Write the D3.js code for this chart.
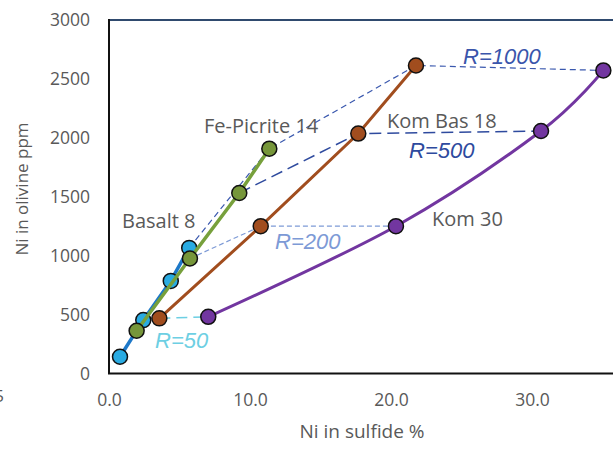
<!DOCTYPE html>
<html>
<head>
<meta charset="utf-8">
<script src="https://cdn.jsdelivr.net/npm/d3@7"></script>
<style>
  body { margin: 0; background: #fff; }
  svg { display: block; font-family: "Open Sans", sans-serif; }
</style>
</head>
<body>
<div id="chart"></div>
<script>
// series: Ni in sulfide % (x) vs Ni in olivine ppm (y)
const basaltX = [0.78, 2.43, 4.38, 5.69]
const basaltY = [142, 453, 786, 1066]
const picriteX = [1.96, 5.74, 9.24, 11.37]
const picriteY = [363, 976, 1532, 1908]
const komBasX = [3.57, 10.76, 17.68, 21.77]
const komBasY = [468, 1250, 2036, 2614]
const komX = [7.04, 20.35, 30.64, 35.06]
const komY = [481, 1250, 2058, 2572]

const xTicks = [0, 10, 20, 30]
const yTicks = [0, 500, 1000, 1500, 2000, 2500, 3000]

const conf = {
    width: 613,
    height: 449,
    left: 109,
    top: 20,
    bottom: 373.5,
    xMax: 40
}

let svg = d3.select("#chart").append("svg")
    .attr("width", conf.width)
    .attr("height", conf.height)

let x = d3.scaleLinear().domain([0, conf.xMax]).range([conf.left, conf.left + 564])
let y = d3.scaleLinear().domain([0, 3000]).range([conf.bottom, conf.top])

let pts = (xs, ys) => xs.map((v, i) => [v, ys[i]])
let basalt = pts(basaltX, basaltY)
let picrite = pts(picriteX, picriteY)
let komBas = pts(komBasX, komBasY)
let kom = pts(komX, komY)

// axes (labels only)
let yAxis = d3.axisLeft(y).tickValues(yTicks).tickSize(0).tickPadding(19).tickFormat(d3.format("d"))
svg.append("g").attr("transform", "translate(" + conf.left + ",0)").call(yAxis)
let xAxis = d3.axisBottom(x).tickValues(xTicks).tickSize(0).tickPadding(20).tickFormat(d3.format(".1f"))
svg.append("g").attr("transform", "translate(0," + conf.bottom + ")").call(xAxis)
svg.selectAll(".domain").remove()
svg.selectAll(".tick text")
    .attr("fill", "#595959")
    .style("font-size", "17.5px")
    .style("font-family", "'Open Sans', sans-serif")

// frame
svg.append("line").attr("x1", conf.left).attr("x2", conf.width).attr("y1", conf.top).attr("y2", conf.top)
    .attr("stroke", "#2F4A6E").attr("stroke-width", 2)
svg.append("line").attr("x1", conf.left).attr("x2", conf.left).attr("y1", conf.top - 1).attr("y2", conf.bottom)
    .attr("stroke", "#111").attr("stroke-width", 2)
svg.append("line").attr("x1", conf.left - 1).attr("x2", conf.width).attr("y1", conf.bottom).attr("y2", conf.bottom)
    .attr("stroke", "#111").attr("stroke-width", 2)

// axis titles
svg.append("text")
    .attr("x", 362).attr("y", 438)
    .attr("text-anchor", "middle")
    .attr("fill", "#595959")
    .style("font-size", "19px")
    .text("Ni in sulfide %")
svg.append("text")
    .attr("transform", "translate(28,189) rotate(-90)")
    .attr("text-anchor", "middle")
    .attr("fill", "#595959")
    .style("font-size", "17px")
    .text("Ni in olivine ppm")
svg.append("text")
    .attr("x", 4).attr("y", 402)
    .attr("text-anchor", "end")
    .attr("fill", "#595959")
    .style("font-size", "17px")
    .text("5")

let line = d3.line().x(d => x(d[0])).y(d => y(d[1]))
let smooth = d3.line().x(d => x(d[0])).y(d => y(d[1])).curve(d3.curveCardinal.tension(0))

// R tie lines
let tie = [
    {pts: [komBas[0], kom[0]], color: "#6DCFE3", w: 1.5, dash: "11,6"},
    {pts: [picrite[1], komBas[1], kom[1]], color: "#7D9AD6", w: 1.2, dash: "5,3"},
    {pts: [picrite[2], komBas[2], kom[2]], color: "#2E4A9E", w: 1.5, dash: "12,6"},
    {pts: [basalt[3], picrite[3], komBas[3], kom[3]], color: "#3A58AE", w: 1.2, dash: "6,4"}
]
svg.append("g").attr("class", "ties")
    .selectAll("path")
    .data(tie)
    .join("path")
    .attr("d", d => line(d.pts))
    .attr("fill", "none")
    .attr("stroke", d => d.color)
    .attr("stroke-width", d => d.w)
    .attr("stroke-dasharray", d => d.dash)

// series
let series = [
    {pts: basalt, line: "#1D78C8", fill: "#29ABE2", w: 3.5, gen: line},
    {pts: picrite, line: "#77A03C", fill: "#76963A", w: 3.5, gen: line},
    {pts: komBas, line: "#A14D1E", fill: "#A14D1E", w: 3, gen: line},
    {pts: kom, line: "#7236A0", fill: "#7236A0", w: 3, gen: smooth}
]
series.forEach(s => {
    let g = svg.append("g").attr("class", "series")
    g.append("path")
        .attr("d", s.gen(s.pts))
        .attr("fill", "none")
        .attr("stroke", s.line)
        .attr("stroke-width", s.w)
    g.selectAll("circle")
        .data(s.pts)
        .join("circle")
        .attr("cx", d => x(d[0]))
        .attr("cy", d => y(d[1]))
        .attr("r", 7.5)
        .attr("fill", s.fill)
        .attr("stroke", "#111")
        .attr("stroke-width", 1.5)
})

// labels
let labels = [
    {text: "Fe-Picrite 14", x: 204, y: 133, color: "#595959", italic: false},
    {text: "Basalt 8", x: 122, y: 228, color: "#595959", italic: false},
    {text: "Kom Bas 18", x: 387, y: 128, color: "#595959", italic: false},
    {text: "Kom 30", x: 432, y: 226, color: "#595959", italic: false},
    {text: "R=1000", x: 463, y: 64, color: "#3A55AB", italic: true},
    {text: "R=500", x: 409, y: 158, color: "#2E4A9E", italic: true},
    {text: "R=200", x: 275, y: 249, color: "#7D9AD6", italic: true},
    {text: "R=50", x: 155, y: 348, color: "#6DCFE3", italic: true}
]
svg.append("g").attr("class", "labels")
    .selectAll("text")
    .data(labels)
    .join("text")
    .attr("x", d => d.x)
    .attr("y", d => d.y)
    .attr("fill", d => d.color)
    .style("font-family", d => d.italic ? "'Liberation Sans', Arial, sans-serif" : "'Open Sans', sans-serif")
    .style("font-style", d => d.italic ? "italic" : "normal")
    .style("font-size", d => d.italic ? "22px" : "20px")
    .text(d => d.text)
</script>
</body>
</html>
